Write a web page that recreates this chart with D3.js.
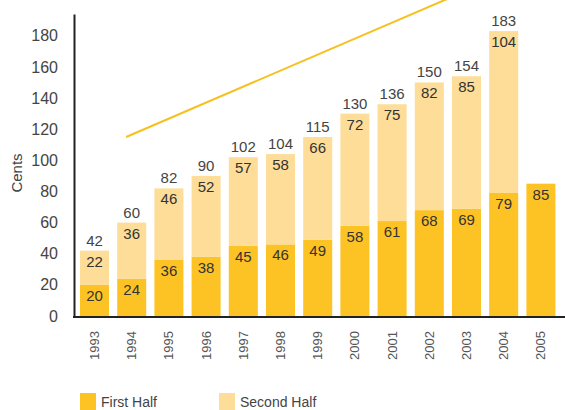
<!DOCTYPE html>
<html>
<head>
<meta charset="utf-8">
<script src="https://cdn.jsdelivr.net/npm/d3@7"></script>
<style>
    body { margin: 0; background: #fff; }
    text { font-family: "Liberation Sans", "DejaVu Sans", sans-serif; }
</style>
</head>
<body>
<div id="chart"></div>
<script>

// data
const years = ["1993", "1994", "1995", "1996", "1997", "1998", "1999", "2000", "2001", "2002", "2003", "2004", "2005"]
const firstHalf = [20, 24, 36, 38, 45, 46, 49, 58, 61, 68, 69, 79, 85]
const secondHalf = [22, 36, 46, 52, 57, 58, 66, 72, 75, 82, 85, 104, null]
const totals = [42, 60, 82, 90, 102, 104, 115, 130, 136, 150, 154, 183, null]
const yTicks = [0, 20, 40, 60, 80, 100, 120, 140, 160, 180]
const seriesNames = ["First Half", "Second Half"]

// trend arrow (in year / cents units)
const trendYears = [1993.85, 2003.0]
const trendValues = [115, 209]

const colors = {first: "#FDC325", second: "#FDDD97", line: "#F7C01F"}

const width = 565, height = 410

let svg = d3.select("#chart").append("svg")
    .attr("width", width)
    .attr("height", height)

// scales
let x = d3.scaleBand()
    .domain(years)
    .range([75.9, 559.5])
    .paddingInner(0.22)
    .paddingOuter(0.11)

let y = d3.scaleLinear()
    .domain([0, 194])
    .range([316, 14])

// continuous year scale for the trend line, lined up with band centres
let xYear = d3.scaleLinear()
    .domain([1993, 2005])
    .range([x("1993") + x.bandwidth() / 2, x("2005") + x.bandwidth() / 2])

let data = years.map((yr, i) => ({
    year: yr,
    first: firstHalf[i],
    second: secondHalf[i],
    total: totals[i]
}))

// bars - first half
svg.selectAll(".bar.first")
    .data(data)
    .enter()
    .append("rect")
    .attr("class", "bar first")
    .attr("x", d => x(d.year))
    .attr("y", d => y(d.first))
    .attr("width", x.bandwidth())
    .attr("height", d => y(0) - y(d.first))
    .attr("fill", colors.first)

// bars - second half stacked on top
svg.selectAll(".bar.second")
    .data(data.filter(d => d.second != null))
    .enter()
    .append("rect")
    .attr("class", "bar second")
    .attr("x", d => x(d.year))
    .attr("y", d => y(d.first + d.second))
    .attr("width", x.bandwidth())
    .attr("height", d => y(d.first) - y(d.first + d.second))
    .attr("fill", colors.second)

// value labels
let labelStyle = sel => sel
    .attr("text-anchor", "middle")
    .attr("font-size", 15)
    .attr("fill", "#333")

svg.selectAll(".lab-first")
    .data(data)
    .enter()
    .append("text")
    .attr("x", d => x(d.year) + x.bandwidth() / 2)
    .attr("y", d => y(d.first) + 16)
    .text(d => d.first)
    .call(labelStyle)

svg.selectAll(".lab-second")
    .data(data.filter(d => d.second != null))
    .enter()
    .append("text")
    .attr("x", d => x(d.year) + x.bandwidth() / 2)
    .attr("y", d => y(d.first + d.second) + 16)
    .text(d => d.second)
    .call(labelStyle)

svg.selectAll(".lab-total")
    .data(data.filter(d => d.total != null))
    .enter()
    .append("text")
    .attr("x", d => x(d.year) + x.bandwidth() / 2)
    .attr("y", d => y(d.total) - 5)
    .text(d => d.total)
    .call(labelStyle)
    .attr("fill", "#444")

// trend line
svg.append("path")
    .datum(trendYears.map((yr, i) => [yr, trendValues[i]]))
    .attr("d", d3.line().x(d => xYear(d[0])).y(d => y(d[1])))
    .attr("fill", "none")
    .attr("stroke", colors.line)
    .attr("stroke-width", 2)

// y axis
let yAxis = svg.append("g")
    .attr("class", "axis y-axis")
    .attr("transform", "translate(74,0)")
    .call(d3.axisLeft(y).tickValues(yTicks).tickSize(0).tickPadding(16))
yAxis.select(".domain")
    .attr("stroke", "#222")
    .attr("stroke-width", 2)
yAxis.selectAll("text")
    .attr("font-size", 16)
    .attr("fill", "#444")
    .style("font-family", "Liberation Sans, sans-serif")

// x axis
let xAxis = svg.append("g")
    .attr("class", "axis x-axis")
    .attr("transform", "translate(0,317)")
    .call(d3.axisBottom(x).tickSize(0).tickSizeOuter(0))
xAxis.select(".domain")
    .attr("d", "M73,0H565")
    .attr("stroke", "#222")
    .attr("stroke-width", 2)
xAxis.selectAll("text")
    .attr("transform", "rotate(-90)")
    .attr("text-anchor", "end")
    .attr("x", -14)
    .attr("y", 0)
    .attr("dy", "0.35em")
    .attr("font-size", 13)
    .attr("fill", "#555")
    .style("font-family", "Liberation Sans, sans-serif")

// y title
svg.append("text")
    .attr("transform", "translate(22,173) rotate(-90)")
    .attr("text-anchor", "middle")
    .attr("font-size", 15)
    .attr("fill", "#444")
    .text("Cents")

// legend
let legend = svg.append("g").attr("class", "legend")
let legendX = [80, 219]
seriesNames.forEach((name, i) => {
    legend.append("rect")
        .attr("x", legendX[i])
        .attr("y", 393)
        .attr("width", 16)
        .attr("height", 17)
        .attr("fill", i === 0 ? colors.first : colors.second)
    legend.append("text")
        .attr("x", legendX[i] + 21)
        .attr("y", 407)
        .attr("font-size", 14)
        .attr("fill", "#444")
        .text(name)
})

</script>
</body>
</html>
